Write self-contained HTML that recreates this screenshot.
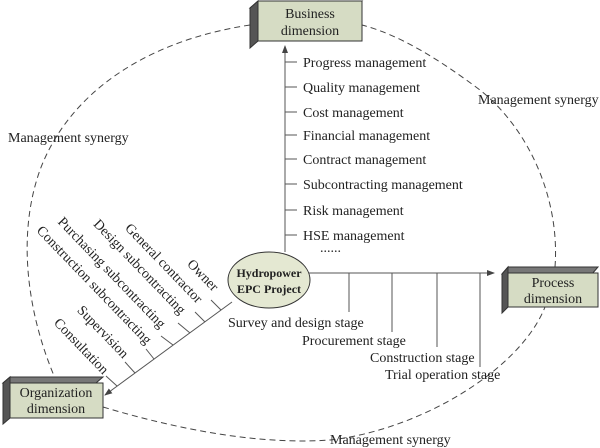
<!DOCTYPE html>
<html><head><style>body{margin:0;background:#fff}svg{display:block}</style></head>
<body>
<svg width="600" height="448" viewBox="0 0 600 448" font-family="Liberation Serif, Times New Roman, Times, DejaVu Serif, serif" font-size="14" fill="#222">
<defs><marker id="a" markerWidth="8" markerHeight="8" refX="7" refY="4" orient="auto"><path d="M0,1 L8,4 L0,7 z" fill="#444"/></marker></defs>
<g fill="none" stroke="#444" stroke-width="1" stroke-dasharray="6,4">
<path d="M250,25 C150,40 70,90 40,170 C15,240 30,320 55,378"/>
<path d="M103,407 C180,430 260,445 330,440 C420,430 520,370 545,307"/>
<path d="M555,267 C560,200 530,130 480,90 C440,60 400,35 362,25"/>
</g>
<polygon points="250,8 258,1 362,1 354,8" fill="#777" stroke="#333"/>
<polygon points="250,8 258,1 258,41 250,48" fill="#555" stroke="#333"/>
<rect x="258" y="1" width="104" height="40" fill="#d6dcc4" stroke="#333"/>
<text x="310" y="18" text-anchor="middle">Business</text><text x="310" y="35" text-anchor="middle">dimension</text>
<polygon points="502,274 508,267 598,267 592,274" fill="#777" stroke="#333"/>
<polygon points="502,274 508,267 508,307 502,313" fill="#555" stroke="#333"/>
<rect x="508" y="273" width="90" height="34" fill="#d6dcc4" stroke="#333"/>
<text x="553" y="287" text-anchor="middle">Process</text><text x="553" y="303" text-anchor="middle">dimension</text>
<polygon points="3,383 10,377 103,377 96,383" fill="#777" stroke="#333"/>
<polygon points="3,383 10,377 10,418 3,424" fill="#555" stroke="#333"/>
<rect x="10" y="383" width="93" height="35" fill="#d6dcc4" stroke="#333"/>
<text x="56" y="397" text-anchor="middle">Organization</text><text x="56" y="413" text-anchor="middle">dimension</text>
<g stroke="#555" fill="none">
<line x1="285" y1="252" x2="285" y2="46" marker-end="url(#a)"/>
<line x1="285" y1="62" x2="297" y2="62"/><line x1="285" y1="87" x2="297" y2="87"/><line x1="285" y1="112" x2="297" y2="112"/><line x1="285" y1="135" x2="297" y2="135"/><line x1="285" y1="159" x2="297" y2="159"/><line x1="285" y1="184" x2="297" y2="184"/><line x1="285" y1="210" x2="297" y2="210"/><line x1="285" y1="235" x2="297" y2="235"/>
<line x1="309" y1="273" x2="494" y2="273" marker-end="url(#a)"/>
<line x1="349" y1="273" x2="349" y2="312"/><line x1="392" y1="273" x2="392" y2="332"/><line x1="437" y1="273" x2="437" y2="347"/><line x1="480" y1="273" x2="480" y2="367"/>
<line x1="232" y1="302" x2="105" y2="395" marker-end="url(#a)"/>
<line x1="221" y1="310" x2="211" y2="300"/><line x1="205" y1="322" x2="195" y2="312"/><line x1="190" y1="333" x2="178" y2="323"/><line x1="173" y1="345" x2="161" y2="336"/><line x1="154" y1="359" x2="146" y2="349"/><line x1="135" y1="373" x2="125" y2="362"/><line x1="117" y1="386" x2="106" y2="376"/>
</g>
<g>
<text x="303" y="67">Progress management</text><text x="303" y="92">Quality management</text><text x="303" y="117">Cost management</text><text x="303" y="140">Financial management</text><text x="303" y="164">Contract management</text><text x="303" y="189">Subcontracting management</text><text x="303" y="215">Risk management</text><text x="303" y="240">HSE management</text><text x="320" y="252">......</text>
<text x="228" y="327">Survey and design stage</text><text x="302" y="345">Procurement stage</text><text x="370" y="362">Construction stage</text><text x="385" y="379">Trial operation stage</text>
<text x="8" y="142">Management synergy</text><text x="478" y="104">Management synergy</text><text x="330" y="444">Management synergy</text>
</g>
<g text-anchor="end">
<text transform="translate(213,292) rotate(46)">Owner</text>
<text transform="translate(197,304) rotate(46)">General contractor</text>
<text transform="translate(180,315) rotate(46)">Design subcontracting</text>
<text transform="translate(160,329) rotate(46)">Purchasing subcontracting</text>
<text transform="translate(146,345) rotate(46)">Construction subcontracting</text>
<text transform="translate(123,359) rotate(46)">Supervision</text>
<text transform="translate(103,375) rotate(46)">Consultation</text>
</g>
<ellipse cx="269" cy="280" rx="41" ry="28" fill="#e4e8d2" stroke="#333"/>
<text x="269" y="277" text-anchor="middle" font-weight="bold" font-size="12">Hydropower</text>
<text x="269" y="293" text-anchor="middle" font-weight="bold" font-size="12">EPC Project</text>
</svg>
</body></html>
